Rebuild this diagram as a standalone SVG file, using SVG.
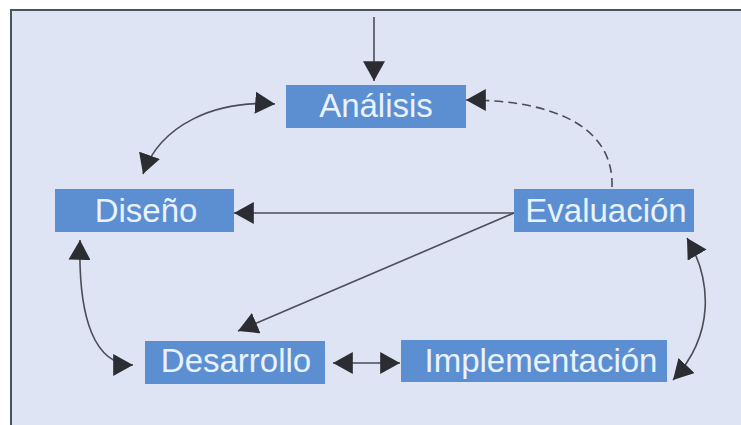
<svg xmlns="http://www.w3.org/2000/svg" width="741" height="425" viewBox="0 0 741 425">
  <defs>
    <style>
      .box { fill: #5b8fd2; }
      .lbl { font-family: "Liberation Sans", Arial, sans-serif; font-size: 33px; fill: #eaf2ff; text-anchor: middle; }
      .conn { fill: none; stroke: #4a4d55; stroke-width: 1.6; }
      .dash { stroke-dasharray: 9 5; }
    </style>
    <marker id="ah" markerUnits="userSpaceOnUse" markerWidth="20" markerHeight="22" refX="18" refY="10" orient="auto-start-reverse" viewBox="0 0 18 20">
      <path d="M0,0 L18,10 L0,20 Z" fill="#2b2d33"/>
    </marker>
  </defs>
  <rect x="0" y="0" width="741" height="425" fill="#ffffff"/>
  <rect id="frame" x="11" y="10" width="740" height="425" fill="#dfe4f5" stroke="#4d5260" stroke-width="2"/>

  <g id="connectors">
    <path class="conn" d="M374,17 L374,81" marker-end="url(#ah)"/>
    <path class="conn dash" d="M612,187 C614,130 560,100 466,100" marker-end="url(#ah)"/>
    <path class="conn" d="M275,104 C215,100 160,125 143,174" marker-start="url(#ah)" marker-end="url(#ah)"/>
    <path class="conn" d="M514,213 L234,213" marker-end="url(#ah)"/>
    <path class="conn" d="M514,213 L238,331" marker-end="url(#ah)"/>
    <path class="conn" d="M80,240 C78,320 95,365 133,365" marker-start="url(#ah)" marker-end="url(#ah)"/>
    <path class="conn" d="M333,363 L400,363" marker-start="url(#ah)" marker-end="url(#ah)"/>
    <path class="conn" d="M687,238 C712,280 715,335 673,380" marker-start="url(#ah)" marker-end="url(#ah)"/>
  </g>

  <g id="analisis">
    <rect class="box" x="286" y="85" width="180" height="43"/>
    <text class="lbl" x="376" y="117">Análisis</text>
  </g>
  <g id="diseno">
    <rect class="box" x="55" y="189" width="179" height="43"/>
    <text class="lbl" x="146" y="222">Diseño</text>
  </g>
  <g id="evaluacion">
    <rect class="box" x="514" y="189" width="180" height="43"/>
    <text class="lbl" x="606" y="222">Evaluación</text>
  </g>
  <g id="desarrollo">
    <rect class="box" x="145" y="341" width="180" height="43"/>
    <text class="lbl" x="236" y="372">Desarrollo</text>
  </g>
  <g id="implementacion">
    <rect class="box" x="401" y="340" width="266" height="42"/>
    <text class="lbl" x="541" y="372">Implementación</text>
  </g>
</svg>
